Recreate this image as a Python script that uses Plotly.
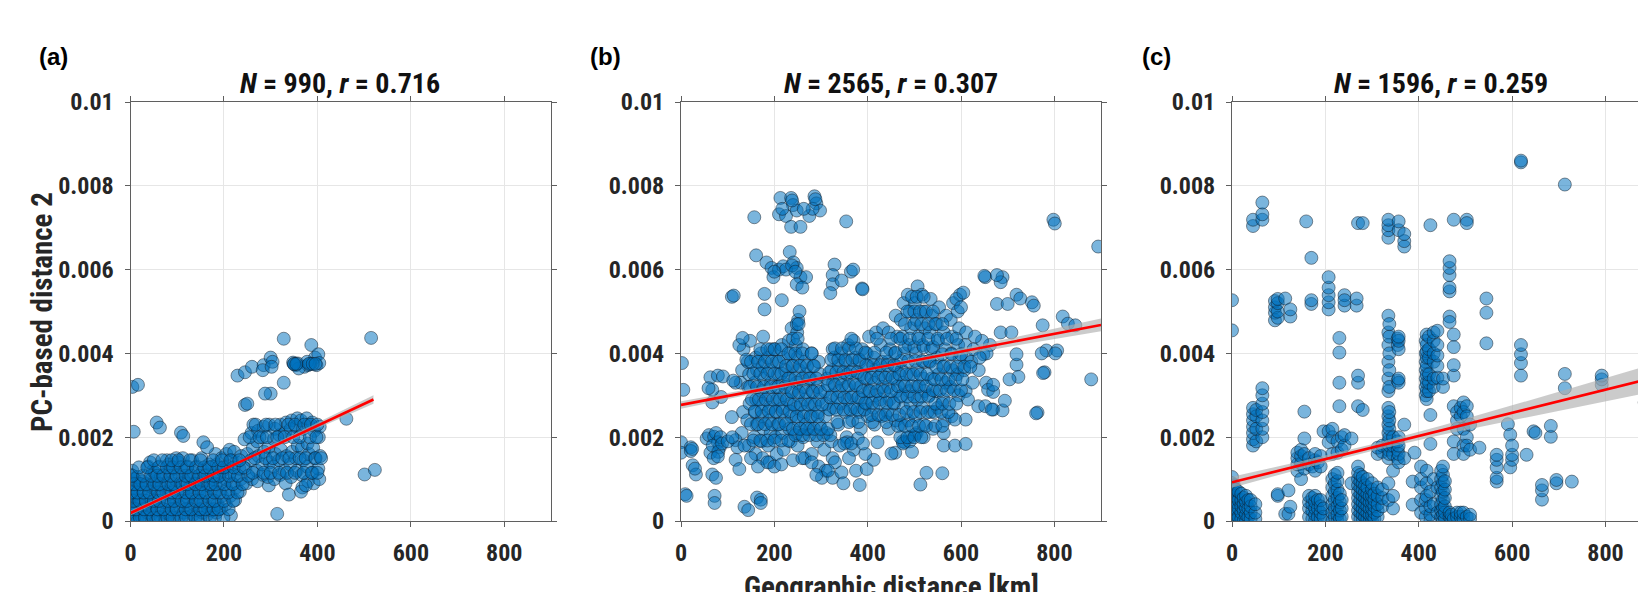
import plotly.graph_objects as go

# ---------------- data (y values in units of 1e-3) ----------------
X_TICK_VALS = [0, 200, 400, 600, 800]
X_TICK_TEXT = ["0", "200", "400", "600", "800"]
Y_TICK_VALS = [0, 2, 4, 6, 8, 10]
Y_TICK_TEXT = ["0", "0.002", "0.004", "0.006", "0.008", "0.01"]

PANEL_LABELS = ["(a)", "(b)", "(c)"]
PANEL_N = ["990", "2565", "1596"]
PANEL_R = ["0.716", "0.307", "0.259"]

# panel (a): individual points (km, value*1e3)
A_PTS = [
    (0,0.05),(2,0.2),(1,0.35),(3,0.5),(0,0.7),(2,0.9),(1,1.1),(4,1.2),
    (8,0.1),(9,0.3),(7,0.6),(10,0.8),(8,1.0),
    (15,0.0),(14,0.25),(16,0.45),(13,0.65),(17,0.9),(15,1.05),
    (24,0.1),(26,0.3),(23,0.5),(27,0.75),(25,0.95),
    (34,0.05),(36,0.2),(33,0.4),(37,0.6),(35,0.85),(38,1.3),
    (44,0.15),(46,0.35),(43,0.55),(47,0.8),(45,1.0),(48,1.2),(42,1.4),
    (54,0.0),(56,0.25),(53,0.5),(57,0.7),(55,0.95),(52,1.15),
    (64,0.1),(66,0.3),(63,0.6),(67,0.85),(65,1.05),(62,1.3),
    (74,0.05),(76,0.2),(73,0.45),(77,0.7),(75,0.9),(72,1.1),(78,1.45),
    (84,0.15),(86,0.4),(83,0.65),(87,0.85),(85,1.2),(82,1.35),
    (94,0.05),(96,0.3),(93,0.55),(97,0.8),(95,1.0),(92,1.25),(98,1.5),
    (104,0.1),(106,0.35),(103,0.6),(107,0.9),(105,1.1),(102,1.4),
    (114,0.2),(116,0.45),(113,0.7),(117,0.95),(115,1.2),(112,1.5),
    (124,0.1),(126,0.3),(123,0.55),(127,0.8),(125,1.05),(122,1.3),
    (134,0.15),(136,0.4),(133,0.65),(137,0.9),(135,1.15),(132,1.45),
    (144,0.05),(146,0.25),(143,0.5),(147,0.75),(145,1.0),(142,1.3),
    (154,0.2),(156,0.45),(153,0.7),(157,0.95),(155,1.2),(152,1.5),
    (164,0.15),(166,0.3),(163,0.6),(167,0.85),(165,1.1),(168,1.35),
    (174,0.25),(176,0.5),(173,0.8),(177,1.0),(175,1.3),
    (184,0.2),(186,0.4),(183,0.7),(187,1.05),(185,1.35),(182,1.6),
    (194,0.3),(196,0.6),(193,0.9),(197,1.2),(195,1.5),
    (204,0.4),(206,0.75),(203,1.0),(207,1.3),(205,1.6),
    (214,0.6),(216,0.9),(213,1.15),(217,1.45),(212,1.7),
    (224,0.5),(226,0.8),(223,1.1),(227,1.4),(222,1.65),
    (234,0.7),(236,1.0),(233,1.25),(237,1.55),
    (248,0.9),(246,1.25),(250,1.6),(244,1.95),
    (260,1.0),(258,1.45),(262,1.75),(259,2.1),(263,2.3),
    (272,0.95),(270,1.2),(274,1.55),(271,1.9),(273,2.15),
    (284,1.1),(282,1.35),(286,1.65),(283,2.0),(285,2.25),
    (296,0.85),(294,1.05),(298,1.4),(295,1.75),(297,2.3),
    (308,1.0),(306,1.3),(310,1.6),(307,1.95),(309,2.2),
    (320,1.1),(318,1.45),(322,1.7),(319,2.05),(321,2.3),
    (332,0.9),(330,1.2),(334,1.55),(331,2.1),(333,2.35),
    (344,1.05),(342,1.35),(346,1.65),(343,2.2),(345,2.4),
    (356,1.2),(354,1.5),(358,1.8),(355,2.25),(357,2.45),
    (368,0.8),(366,1.1),(370,1.45),(367,1.75),(369,2.2),(365,2.4),
    (380,0.95),(378,1.3),(382,1.6),(379,1.85),(381,2.3),(377,2.45),
    (392,0.9),(390,1.15),(394,1.5),(391,1.75),(393,2.15),(389,2.35),
    (404,1.0),(402,1.25),(406,1.55),(403,2.0),(405,2.25),
    (229,3.47),(245,3.55),(260,3.68),(285,3.72),(283,3.6),(300,3.9),(304,3.8),
    (302,3.68),(348,3.78),(354,3.72),(358,3.76),(372,3.68),(380,3.72),(387,4.2),
    (395,3.9),(398,3.72),(402,3.98),(360,3.64),(404,3.77),(350,3.74),(385,3.75),(378,3.8),
    (328,4.35),(515,4.37),(4,3.2),(16,3.25),(7,2.13),(56,2.35),(63,2.23),(108,2.11),
    (113,2.03),(245,2.77),(250,2.8),(300,3.04),(288,3.04),(328,3.3),(462,2.44),
    (501,1.11),(523,1.22),(314,0.17),(339,0.63),(215,0.13),(156,1.88),(164,1.76),
    (365,0.7),(375,0.85),
]
# panel (a): extra dense rows (value*1e3, list of km)
A_ROWS = [
    (0.08, [5,20,31,49,60,79,90,109,119,139,150,170,181,199]),
    (0.28, [0,12,29,41,58,71,88,99,118,130,149,160,178,189,210]),
    (0.48, [6,19,33,50,61,80,93,110,121,140,151,169,180,200,220]),
    (0.68, [2,15,28,40,59,70,89,100,119,131,148,161,179,191,209,229]),
    (0.88, [8,21,34,51,62,81,92,111,122,139,152,171,182,201,219,240]),
    (1.08, [4,27,44,57,70,86,99,118,130,147,160,178,190,211,230,252]),
    (1.28, [18,36,60,78,91,108,121,140,158,169,188,200,221,242]),
    (1.45, [50,68,88,103,127,150,177,196,214,233]),
    (1.15, [262,285,300,318,335,352,371,388,400]),
    (1.5, [266,289,305,325,340,362,375,396,408]),
    (2.0, [255,276,292,314,330,348,362,384,398]),
    (2.3, [268,290,310,338,352,372,386,400]),
    (3.75, [350,355,382,390,396]),
]

B_PTS = [
    (130,2.1),(133,2.6),(128,3.3),(131,3.6),(134,4.1),
    (145,1.8),(142,2.4),(147,2.8),(144,3.2),(146,3.5),(143,3.8),(148,4.3),
    (160,1.6),(157,2.0),(162,2.3),(159,2.6),(161,2.9),(158,3.3),(163,3.6),(160,3.9),
    (175,1.5),(172,1.9),(177,2.2),(174,2.5),(176,2.8),(173,3.1),(178,3.4),(175,3.7),(171,4.0),(176,4.4),
    (190,1.4),(187,1.8),(192,2.1),(189,2.4),(191,2.7),(188,3.0),(193,3.3),(190,3.6),(186,3.9),(192,4.1),
    (205,1.6),(202,2.0),(207,2.3),(204,2.6),(206,2.9),(203,3.2),(208,3.5),(205,3.8),(201,4.1),
    (220,1.7),(217,2.1),(222,2.4),(219,2.7),(221,3.0),(218,3.3),(223,3.6),(220,3.9),(216,4.2),
    (235,1.9),(232,2.2),(237,2.5),(234,2.8),(236,3.1),(233,3.4),(238,3.7),(235,4.0),(231,4.3),(237,4.6),
    (250,1.8),(247,2.1),(252,2.4),(249,2.7),(251,3.0),(248,3.3),(253,3.6),(250,3.9),(246,4.2),(249,4.5),(251,4.8),(254,5.0),
    (265,1.5),(262,2.0),(267,2.3),(264,2.6),(266,2.9),(263,3.2),(268,3.5),(265,3.8),(261,4.1),
    (280,1.6),(277,2.2),(282,2.5),(279,2.8),(281,3.1),(278,3.4),(283,3.7),(280,4.0),
    (295,1.3),(292,1.9),(297,2.3),(294,2.6),(296,2.9),(293,3.2),(298,3.5),(295,3.8),
    (310,1.2),(307,1.7),(312,2.1),(309,2.5),(311,2.8),(308,3.1),(313,3.4),
    (325,1.5),(322,1.9),(327,2.7),(324,3.0),(326,3.3),(323,3.6),(328,3.9),(325,4.1),
    (340,1.8),(337,2.3),(342,2.8),(339,3.1),(341,3.4),(338,3.7),(343,4.0),
    (355,2.0),(352,2.6),(357,2.9),(354,3.2),(356,3.5),(353,3.8),(358,4.2),
    (370,1.7),(367,2.4),(372,2.7),(369,3.0),(371,3.3),(368,3.6),(373,3.9),(370,4.3),
    (385,2.2),(382,2.6),(387,2.9),(384,3.2),(386,3.5),(383,3.8),(388,4.1),
    (400,2.5),(397,2.8),(402,3.1),(399,3.4),(401,3.7),(398,4.0),(403,4.4),
    (415,2.3),(412,2.7),(417,3.0),(414,3.3),(416,3.6),(413,3.9),(418,4.5),
    (430,2.5),(427,2.9),(432,3.2),(429,3.5),(431,3.8),(428,4.2),(433,4.6),
    (445,2.2),(442,2.6),(447,2.9),(444,3.2),(446,3.5),(443,3.8),(448,4.1),(445,4.5),
    (460,2.4),(457,2.8),(462,3.1),(459,3.4),(461,3.7),(458,4.0),(463,4.4),(460,4.9),
    (475,1.9),(472,2.3),(477,2.7),(474,3.0),(476,3.3),(473,3.6),(478,4.0),(475,4.4),(471,4.8),(477,5.2),
    (490,2.0),(487,2.4),(492,2.8),(489,3.1),(491,3.5),(488,4.2),(493,4.6),(490,5.0),(486,5.4),
    (505,2.1),(502,2.5),(507,2.9),(504,3.2),(506,3.6),(503,4.0),(508,4.4),(505,4.8),(501,5.2),(507,5.6),
    (520,2.3),(517,2.7),(522,3.1),(519,3.4),(521,3.8),(518,4.2),(523,4.6),(520,5.0),(516,5.4),
    (535,2.6),(532,3.0),(537,3.4),(534,3.8),(536,4.1),(533,4.5),(538,4.9),(535,5.3),
    (550,2.7),(547,3.1),(552,3.5),(549,3.9),(551,4.3),(548,4.7),(553,5.1),
    (565,2.4),(562,2.9),(567,3.3),(564,3.7),(566,4.1),(563,4.5),(568,4.9),
    (580,2.5),(577,3.2),(582,3.6),(579,4.0),(581,4.4),(578,4.8),(583,5.2),
    (595,3.0),(592,3.5),(597,3.9),(594,4.2),(596,4.6),(593,5.0),(598,5.4),
    (610,3.1),(607,3.6),(612,3.9),(609,4.2),(611,4.5),
    (625,3.3),(622,3.8),(627,4.1),(590,5.3),(605,5.45),(600,5.1),
    (213,7.71),(210,7.32),(225,7.28),(236,7.71),(240,7.54),(248,7.41),(236,7.02),(256,7.02),
    (275,7.28),(286,7.75),(290,7.58),(298,7.41),(282,7.45),(263,7.45),(217,7.45),(288,7.68),
    (238,7.65),(157,7.25),(354,7.15),
    (161,6.34),(183,6.17),(194,6.04),(198,5.82),(210,6.0),(219,6.08),(233,6.42),(241,6.17),
    (248,6.04),(256,5.82),(268,5.82),(248,5.65),(260,5.57),(216,5.27),(179,5.42),(179,5.05),
    (109,5.35),(113,5.38),(225,6.0),(238,6.1),(245,5.95),(200,5.95),
    (329,6.12),(325,5.87),(325,5.65),(320,5.44),(344,5.74),(364,5.95),(369,6.0),(388,5.55),(389,5.53),
    (2,3.77),(5,3.13),(0,1.88),(0,1.63),(21,1.76),(21,1.67),(24,1.72),(25,1.33),(32,1.11),(30,1.25),
    (9,0.64),(12,0.6),(55,1.97),(60,2.05),(71,2.01),(75,2.1),(79,1.88),(83,1.76),(63,1.63),(68,1.8),
    (80,1.65),(70,1.5),(67,1.11),(75,1.03),(72,0.6),(72,0.43),(79,1.54),(63,3.43),(79,3.47),(67,2.83),
    (86,2.96),(67,3.13),(59,3.17),(90,3.45),(85,2.0),(88,1.85),
    (109,2.48),(117,3.3),(112,3.35),(117,1.93),(121,1.76),(117,1.46),(125,1.24),(136,1.8),(125,4.2),
    (132,4.37),(140,3.85),(136,0.34),(144,0.26),(163,0.56),(171,0.51),(171,0.43),(150,1.5),(165,1.3),
    (185,1.4),(200,1.3),(215,1.35),(240,1.45),(260,1.5),(280,1.4),(100,1.9),(110,2.0),
    (302,1.03),(325,1.03),(344,1.16),(348,0.9),(383,0.86),(375,1.2),(398,1.24),(413,1.46),(421,1.88),
    (459,1.63),(379,1.97),(356,1.88),(330,1.4),(360,1.5),(395,1.6),(290,1.1),(315,1.2),
    (479,1.88),(502,2.06),(513,0.87),(560,1.14),(563,1.8),(587,1.8),(610,1.84),(610,2.42),(587,2.42),
    (563,2.1),(526,1.15),(451,1.61),(476,1.85),(490,1.9),(520,2.0),(540,2.2),(495,1.65),
    (637,2.74),(652,2.74),(669,2.66),(689,2.64),(652,5.82),(689,5.82),(685,5.7),(677,5.18),(700,5.18),
    (719,5.4),(727,5.31),(752,5.22),(756,5.14),(685,4.5),(708,4.5),(719,3.73),(723,3.44),(704,3.38),
    (654,3.3),(658,3.13),(669,3.08),(669,3.25),(694,2.87),(719,3.98),(662,4.2),(648,3.98),(638,3.6),
    (645,4.3),(655,4.0),(640,3.9),(630,4.4),(615,2.9),(666,2.66),(650,5.85),(677,5.87),
    (764,2.59),(779,3.55),(783,4.07),(806,4.07),(775,4.67),(818,4.88),(829,4.71),(845,4.67),
    (798,7.19),(801,7.1),(879,3.38),(894,6.55),(773,4.0),(802,4.0),(776,3.53),(761,2.57),
]
# panel (b): extra dense row segments (value*1e3, list of km)
B_ROWS = [
    (1.92, [155,170,185,200,215,230]), (2.05, [245,260,275,290,305,320]),
    (1.85, [350,365,390]), (2.0, [470,485,500,515]),
    (2.31, [150,165,180,195,210,225]), (2.2, [240,255,270,285,300,315]),
    (2.36, [335,360,380,410,440]), (2.27, [465,480,495,510,525,545,560]),
    (2.62, [158,173,188,203,218,233]), (2.5, [248,263,278,293]),
    (2.66, [318,333,348,363,378,393]), (2.53, [408,423,438,453,468]),
    (2.6, [483,498,513,528,543,558,573]),
    (2.9, [152,167,182,197,212,227]), (2.78, [242,257,272,287,302]),
    (2.95, [320,335,350,365,380]), (2.82, [395,410,425,440,455]),
    (2.97, [470,485,500,515,530]), (2.8, [545,560,575,590]),
    (3.2, [148,163,178,193,208,223]), (3.08, [238,253,268,283,298]),
    (3.24, [315,330,345,360,375]), (3.1, [390,405,420,435,450]),
    (3.22, [465,480,495,510,525]), (3.12, [540,555,570,585,600]),
    (3.52, [155,170,185,200,215]), (3.4, [230,245,260,275,290]),
    (3.55, [318,333,348,363,378]), (3.42, [393,408,423,438,453]),
    (3.5, [468,483,498,513,528]), (3.38, [543,558,573,588,603]),
    (3.8, [150,165,180,195,210]), (3.7, [225,240,255,270,285]),
    (3.85, [322,337,352,367,382]), (3.72, [397,412,427,442,457]),
    (3.82, [472,487,502,517,532]), (3.68, [547,562,577,592,607,620]),
    (4.1, [170,185,200,215]), (4.0, [230,245,260,280]),
    (4.12, [330,345,360,375]), (4.02, [395,415,440,460]),
    (4.15, [480,500,520,540]), (3.98, [560,580,600]),
    (4.35, [240,250,365,420,450,470,490,510,530,550,570,590]),
    (4.7, [248,252,480,500,515,530,545,560]),
    (5.0, [485,500,512,525,540]),
    (5.35, [495,505,520]),
]

# panel (c): vertical stacks (km, list of value*1e3)
C_COLS = [
    (0, [0.0,0.1,0.2,0.3,0.4,0.5,0.6,0.7,0.8,0.9,1.05,4.55,5.27]),
    (4, [0.05,0.25,0.45,0.65,0.85]),
    (8, [0.0,0.15,0.3,0.45,0.6,0.75]),
    (14, [0.1,0.3,0.5,0.7]),
    (20, [0.05,0.2,0.35,0.5,0.65]),
    (25, [0.0,0.25,0.4,0.55]),
    (30, [0.0,0.15,0.3,0.45,0.6]),
    (35, [0.1,0.3,0.5]),
    (40, [0.05,0.2,0.35,0.5]),
    (45, [1.8,1.95,2.1,2.25,2.4,2.55,2.7,7.04,7.19]),
    (50, [0.05,0.2,0.4]),
    (52, [1.9,2.2,2.5,2.65]),
    (65, [2.0,2.2,2.4,2.6,2.8,3.0,3.17,7.19,7.32,7.6]),
    (92, [4.79,4.97,5.1,5.25]),
    (98, [0.6,4.85,5.0,5.2,5.3,0.64]),
    (114, [0.17,5.31]),
    (121, [0.73,0.17]),
    (125, [0.34,4.88,5.05]),
    (140, [1.2,1.35,1.5,1.63]),
    (148, [1.0,1.37,1.55,1.7]),
    (155, [1.25,1.6,1.97,2.61]),
    (159, [7.15]),
    (165, [0.1,0.3,0.45,0.6,1.35,1.5]),
    (170, [5.18,5.27,6.28]),
    (172, [0.05,0.25,0.4,0.55,1.3]),
    (178, [0.0,0.15,0.3,0.45,0.6,1.2,1.45,1.6]),
    (184, [0.1,0.3,0.5,1.4]),
    (190, [0.05,0.2,0.35,0.5,1.3,1.55]),
    (196, [2.14,0.1,0.3]),
    (207, [5.05,5.22,5.39,5.57,5.82,2.14,1.88]),
    (215, [0.0,0.2,0.4,0.6,0.8,1.0,1.6,2.0,2.2]),
    (220, [0.1,0.3,0.5,0.7,0.9,1.1]),
    (226, [0.0,0.15,0.35,0.55,0.75,0.95,1.15,1.63,1.9]),
    (230, [2.74,3.3,4.02,4.37]),
    (231, [0.05,0.25,0.45,0.65]),
    (235, [0.1,0.3,0.5,1.7,2.0]),
    (241, [5.14,5.39,5.27,1.8,2.05]),
    (256, [1.97,0.9]),
    (267, [5.14,5.31]),
    (270, [0.1,0.25,0.4,0.55,0.7,0.85,1.0,1.15,1.3,2.74,3.3,3.47,7.11]),
    (275, [0.05,0.2,0.35,0.5,0.65,0.8,0.95,1.1]),
    (280, [0.0,0.15,0.3,0.45,0.6,0.75,0.9,1.05,2.65,7.11]),
    (285, [0.1,0.25,0.4,0.55,0.7,0.85]),
    (290, [0.05,0.2,0.35,0.5,0.65,0.8,1.0]),
    (295, [0.0,0.15,0.3,0.45,0.6]),
    (300, [0.0,0.15,0.3,0.45,0.6,0.75,0.9]),
    (305, [0.05,0.2,0.35,0.5,0.65]),
    (312, [0.1,0.25,0.4,0.6,0.8,1.6,1.75]),
    (322, [0.35,0.55,0.75,1.65,1.8]),
    (335, [1.5,1.7,1.9,2.1,2.3,2.5,2.7,3.1,3.4,3.8,4.2,4.5,4.9,6.76,6.94,7.06,7.19,0.5,0.9]),
    (337, [1.6,1.8,2.0,2.2,2.4,2.6,3.2,3.6,4.0,4.4,4.7]),
    (345, [0.3,0.6,1.6,1.8,2.0,1.2]),
    (355, [1.5,1.7,1.9,3.35,4.2,4.35]),
    (357, [1.4,1.6,1.8,2.0,3.3,3.4,4.1,4.3,4.4,6.94,7.15]),
    (369, [6.55,6.68,6.85,2.3,1.5]),
    (387, [0.39,0.94]),
    (391, [1.63]),
    (405, [0.2,0.5,0.8,1.0,1.3]),
    (415, [3.0,3.2,3.4,3.6,3.8,4.0,4.3,0.1,0.3,0.5]),
    (417, [2.91,3.1,3.3,3.5,3.7,3.9,4.05,4.2,4.45,0.6,0.9,1.2]),
    (422, [3.1,3.3,3.5,3.9,4.1,4.4]),
    (425, [0.0,0.15,0.35,1.84,2.53,7.06,0.7]),
    (432, [3.2,3.4,3.8,4.0,4.3,4.5,0.4,1.0]),
    (440, [3.42,3.7,3.95,4.2,4.54,0.2,0.8]),
    (448, [0.1,0.25,0.4,0.6,0.8,1.0,1.2]),
    (452, [0.0,0.15,0.3,0.5,0.7,0.9,1.1,1.3,3.2,3.4]),
    (456, [0.05,0.2,0.35,0.55,0.75,0.95]),
    (466, [4.88,4.75,5.48,5.57,5.87,6.04,6.2,0.1,0.2]),
    (470, [0.05,0.15]),
    (475, [3.47,3.72,4.15,4.45,2.74,7.19,0.05,1.6,1.9]),
    (482, [0.1,0.2,2.2,2.4,2.6]),
    (490, [0.1,0.2,2.5,2.7]),
    (496, [0.05,0.2,2.83,2.6,2.2,1.8,1.6]),
    (503, [0.1,2.74,2.5,2.0,1.8,7.19,7.11]),
    (510, [0.05,0.15,2.3,1.7]),
    (530, [1.75]),
    (545, [4.24,4.97,5.31]),
    (567, [0.94,1.03,1.28,1.46,1.58]),
    (591, [2.31]),
    (596, [2.06,1.28]),
    (600, [1.46,1.58,1.8]),
    (619, [3.47,3.77,3.98,4.2,8.56,8.6]),
    (631, [1.58]),
    (646, [2.14]),
    (650, [2.1]),
    (664, [0.51,0.73,0.86]),
    (683, [2.01,2.27]),
    (695, [0.9,0.98]),
    (713, [3.17,3.51,8.03]),
    (728, [0.94]),
    (792, [3.25,3.38,3.47]),
    (884, [2.83]),
]

# regression lines and 95% bands
FIT_A_X = [0, 100, 200, 300, 400, 520]
FIT_A_Y = [0.19, 0.71, 1.23, 1.76, 2.28, 2.90]
FIT_A_H = [0.06, 0.04, 0.03, 0.04, 0.06, 0.10]
FIT_B_X = [0, 150, 300, 450, 600, 750, 900]
FIT_B_Y = [2.77, 3.09, 3.41, 3.72, 4.04, 4.36, 4.68]
FIT_B_H = [0.09, 0.06, 0.04, 0.04, 0.07, 0.11, 0.15]
FIT_C_X = [0, 150, 300, 450, 600, 750, 904]
FIT_C_Y = [0.925, 1.34, 1.75, 2.17, 2.58, 2.99, 3.42]
FIT_C_H = [0.13, 0.09, 0.08, 0.11, 0.18, 0.25, 0.33]

# ---------------- figure ----------------
W, H = 1646, 592
OFF = 8  # page offset of the plot div inside the browser window
X_DOMAINS = [(130.5 - OFF, 551 - OFF), (681 - OFF, 1101 - OFF), (1232 - OFF, W)]
X_RANGES = [[0, 900], [0, 900], [0, 904]]
Y_DOM = [(H - (521 - OFF)) / H, (H - (102 - OFF)) / H]

FONT = "Roboto Condensed, Roboto, Arial, sans-serif"
TXT = "#262626"
AX = "#5f5f5f"


def flatten_pts(pts, rows):
    xs = [p[0] for p in pts]
    ys = [p[1] for p in pts]
    for yv, xlist in rows:
        for xv in xlist:
            xs.append(xv)
            ys.append(yv)
    return xs, ys


a_x, a_y = flatten_pts(A_PTS, A_ROWS)
b_x, b_y = flatten_pts(B_PTS, B_ROWS)
c_x = []; c_y = []
for cx, vals in C_COLS:
    for v in vals:
        c_x.append(cx); c_y.append(v)

scatter_data = [(a_x, a_y), (b_x, b_y), (c_x, c_y)]
fits = [(FIT_A_X, FIT_A_Y, FIT_A_H), (FIT_B_X, FIT_B_Y, FIT_B_H), (FIT_C_X, FIT_C_Y, FIT_C_H)]

fig = go.Figure()
for i in range(3):
    xa = "x" if i == 0 else f"x{i+1}"
    ya = "y" if i == 0 else f"y{i+1}"
    sx, sy = scatter_data[i]
    fig.add_trace(go.Scatter(
        x=sx, y=sy, mode="markers", xaxis=xa, yaxis=ya,
        marker=dict(size=13, color="rgba(0,114,189,0.52)",
                    line=dict(color="rgba(15,25,35,0.6)", width=0.8)),
        hoverinfo="skip"))
    fx, fy, fh = fits[i]
    lo = [y - h for y, h in zip(fy, fh)]
    hi = [y + h for y, h in zip(fy, fh)]
    fig.add_trace(go.Scatter(
        x=list(fx) + list(fx)[::-1], y=hi + lo[::-1], xaxis=xa, yaxis=ya,
        mode="lines", fill="toself", fillcolor="rgba(175,175,175,0.65)",
        line=dict(width=0), hoverinfo="skip"))
    fig.add_trace(go.Scatter(
        x=fx, y=fy, mode="lines", xaxis=xa, yaxis=ya,
        line=dict(color="#ff0000", width=2.6), hoverinfo="skip"))

tickfont = dict(family=FONT, size=24, color=TXT, weight="bold")
layout = dict(width=W, height=H,
              margin=dict(l=0, r=0, t=0, b=0, pad=0, autoexpand=False),
              paper_bgcolor="white", plot_bgcolor="white", showlegend=False)
for i in range(3):
    key = "" if i == 0 else str(i + 1)
    d0, d1 = X_DOMAINS[i]
    layout["xaxis" + key] = dict(
        domain=[d0 / W, d1 / W], range=X_RANGES[i], anchor="y" + key,
        tickvals=X_TICK_VALS, ticktext=X_TICK_TEXT, tickfont=tickfont,
        showgrid=True, gridcolor="#e6e6e6", gridwidth=1, zeroline=False,
        showline=True, linecolor=AX, linewidth=1, mirror="ticks",
        ticks="outside", ticklen=5, tickcolor=AX, tickwidth=1,
        ticklabelstandoff=5, automargin=False)
    layout["yaxis" + key] = dict(
        domain=Y_DOM, range=[0, 10], anchor="x" + key,
        tickvals=Y_TICK_VALS, ticktext=Y_TICK_TEXT, tickfont=tickfont,
        showgrid=True, gridcolor="#e6e6e6", gridwidth=1, zeroline=False,
        showline=True, linecolor=AX, linewidth=1,
        mirror=("ticks" if i < 2 else False),
        ticks="outside", ticklen=5, tickcolor=AX, tickwidth=1,
        ticklabelstandoff=6, automargin=False)

annotations = []
label_x = [53, 605, 1156]
title_x = [340, 891, 1441]
for i in range(3):
    annotations.append(dict(
        x=(title_x[i] - OFF) / W, y=1 - (83 - OFF) / H, xref="paper", yref="paper",
        xanchor="center", yanchor="middle", showarrow=False,
        text=f"<i>N</i> = {PANEL_N[i]}, <i>r</i> = {PANEL_R[i]}",
        font=dict(family=FONT, size=28, color="#111", weight="bold")))
    annotations.append(dict(
        x=(label_x[i] - OFF) / W, y=1 - (56 - OFF) / H, xref="paper", yref="paper",
        xanchor="center", yanchor="middle", showarrow=False,
        text=PANEL_LABELS[i],
        font=dict(family="Liberation Sans, Arial, sans-serif", size=24, color="#000", weight="bold")))
annotations.append(dict(
    x=(42 - OFF) / W, y=1 - (312 - OFF) / H, xref="paper", yref="paper", textangle=-90,
    xanchor="center", yanchor="middle", showarrow=False,
    text="PC-based distance 2",
    font=dict(family=FONT, size=29, color=TXT, weight="bold")))
annotations.append(dict(
    x=(891 - OFF) / W, y=1 - (587 - OFF) / H, xref="paper", yref="paper",
    xanchor="center", yanchor="middle", showarrow=False,
    text="Geographic distance [km]",
    font=dict(family=FONT, size=29, color=TXT, weight="bold")))
layout["annotations"] = annotations

fig.update_layout(**layout)
fig.write_html("out.html")
